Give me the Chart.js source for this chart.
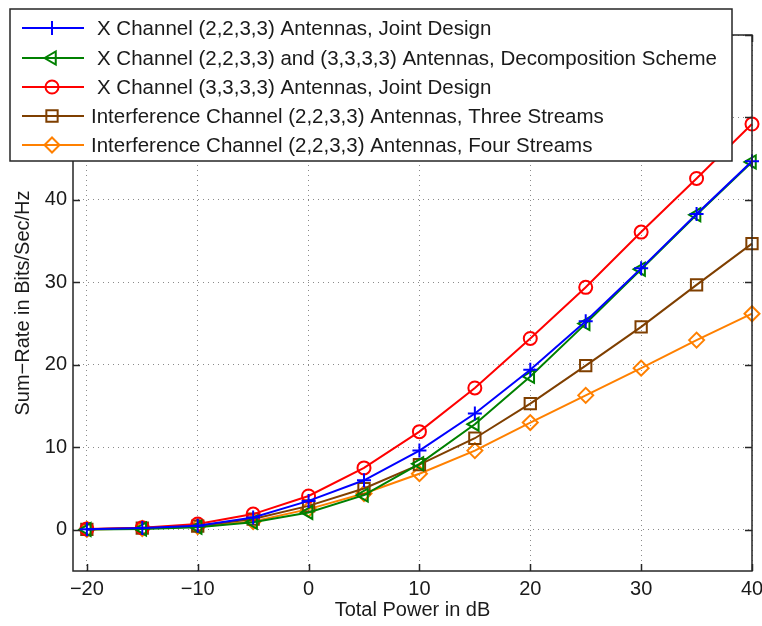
<!DOCTYPE html>
<html>
<head>
<meta charset="utf-8">
<script src="https://cdn.jsdelivr.net/npm/chart.js@4"></script>
<style>
html, body { margin: 0; padding: 0; background: #fff; }
#wrap { width: 762px; height: 626px; }
</style>
</head>
<body>
<div id="wrap"><canvas id="myChart" width="762" height="626"></canvas></div>
<script>
// data
const powerDb = [-20, -15, -10, -5, 0, 5, 10, 15, 20, 25, 30, 35, 40];
const xJoint2233 = [0.05, 0.2, 0.5, 1.5, 3.5, 6.0, 9.6, 14.1, 19.4, 25.3, 31.7, 38.3, 44.7];
const xDecomp = [0.03, 0.1, 0.3, 0.9, 2.1, 4.2, 8.0, 12.8, 18.6, 25.0, 31.6, 38.2, 44.6];
const xJoint3333 = [0.1, 0.25, 0.7, 1.9, 4.1, 7.5, 11.9, 17.2, 23.2, 29.4, 36.1, 42.6, 49.2];
const icThree = [0.05, 0.2, 0.45, 1.3, 2.9, 5.0, 7.9, 11.1, 15.3, 19.9, 24.6, 29.7, 34.7];
const icFour = [0.04, 0.15, 0.4, 1.0, 2.5, 4.4, 6.8, 9.6, 13.0, 16.3, 19.6, 23.0, 26.2];

const xTicks = [-20, -10, 0, 10, 20, 30, 40];
const yTicks = [0, 10, 20, 30, 40, 50, 60];

const labels = [
    'X Channel (2,2,3,3) Antennas, Joint Design',
    'X Channel (2,2,3,3) and (3,3,3,3) Antennas, Decomposition Scheme',
    'X Channel (3,3,3,3) Antennas, Joint Design',
    'Interference Channel (2,2,3,3) Antennas, Three Streams',
    'Interference Channel (2,2,3,3) Antennas, Four Streams'
];
const seriesValues = [xJoint2233, xDecomp, xJoint3333, icThree, icFour];
const colors = ['#0000FF', '#008000', '#FF0000', '#7F3F00', '#FF8000'];
const markers = ['cross', 'triangle', 'circle', 'rect', 'rectRot'];
const rotations = [0, -90, 0, 0, 0];
const radii = [7, 7.5, 6.5, 8, 7.5];

const fontFam = '"Liberation Sans", Arial, Helvetica, sans-serif';
const minus = v => String(v).replace('-', '\u2212');

function mkSet(i) {
    return {
        label: labels[i],
        data: powerDb.map((x, k) => ({ x: x, y: seriesValues[i][k] })),
        borderColor: colors[i],
        backgroundColor: 'rgba(0,0,0,0)',
        pointBackgroundColor: 'rgba(0,0,0,0)',
        pointBorderColor: colors[i],
        pointStyle: markers[i],
        pointRotation: rotations[i],
        pointRadius: radii[i],
        pointBorderWidth: 2,
        borderWidth: 2,
        tension: 0,
        clip: false
    };
}

// axes box, inner ticks and legend on top
const matlabLook = {
    id: 'matlabLook',
    afterDraw(chart) {
        const ctx = chart.ctx;
        const a = chart.chartArea;
        const xs = chart.scales.x, ys = chart.scales.y;
        ctx.save();
        ctx.strokeStyle = '#262626';
        ctx.lineWidth = 1.5;
        ctx.beginPath();
        xTicks.forEach(v => {
            const p = Math.round(xs.getPixelForValue(v)) + 0.5;
            ctx.moveTo(p, a.bottom); ctx.lineTo(p, a.bottom - 7);
            ctx.moveTo(p, a.top); ctx.lineTo(p, a.top + 7);
        });
        yTicks.forEach(v => {
            const p = Math.round(ys.getPixelForValue(v)) + 0.5;
            ctx.moveTo(a.left, p); ctx.lineTo(a.left + 7, p);
            ctx.moveTo(a.right, p); ctx.lineTo(a.right - 7, p);
        });
        ctx.stroke();
        ctx.strokeRect(a.left, a.top, a.right - a.left, a.bottom - a.top);

        // legend
        const L = { x: 10, y: 9, w: 722, h: 152 };
        ctx.fillStyle = '#fff';
        ctx.fillRect(L.x, L.y, L.w, L.h);
        ctx.lineWidth = 1.5;
        ctx.strokeStyle = '#262626';
        ctx.strokeRect(L.x, L.y, L.w, L.h);
        const rowY = [28, 58, 87, 116, 145];
        const textX = [97, 97, 97, 91, 91];
        ctx.font = '20.5px ' + fontFam;
        ctx.textBaseline = 'middle';
        labels.forEach((t, i) => {
            const y = rowY[i];
            ctx.strokeStyle = colors[i];
            ctx.lineWidth = 2;
            ctx.beginPath();
            ctx.moveTo(22, y); ctx.lineTo(84, y);
            ctx.stroke();
            ctx.fillStyle = 'rgba(0,0,0,0)';
            Chart.helpers.drawPoint(ctx, {
                pointStyle: markers[i], rotation: rotations[i],
                radius: radii[i], borderWidth: 2
            }, 52, y);
            ctx.fillStyle = '#1a1a1a';
            ctx.fillText(t, textX[i], y + 1);
        });
        ctx.restore();
    }
};

const config = {
    type: 'line',
    data: { datasets: [0, 1, 2, 3, 4].map(mkSet) },
    options: {
        responsive: false,
        animation: false,
        devicePixelRatio: 1,
        layout: { padding: { left: 0, top: 35, right: 10, bottom: 0 } },
        plugins: { legend: { display: false }, tooltip: { enabled: false } },
        scales: {
            x: {
                type: 'linear',
                min: -21.25,
                max: 40,
                afterBuildTicks: s => { s.ticks = xTicks.map(v => ({ value: v })); },
                afterFit: s => { s.height = 55; s.paddingLeft = 0; s.paddingRight = 0; },
                grid: { color: '#8a8a8a', drawTicks: false, lineWidth: 1 },
                border: { display: false, dash: [1, 4] },
                ticks: {
                    color: '#1a1a1a', padding: 6,
                    font: { family: fontFam, size: 20 },
                    callback: v => minus(v)
                },
                title: {
                    display: true, text: 'Total Power in dB', color: '#1a1a1a',
                    font: { family: fontFam, size: 20 },
                    padding: { top: 0, bottom: 4 }
                }
            },
            y: {
                type: 'linear',
                min: -5,
                max: 60,
                afterBuildTicks: s => { s.ticks = yTicks.map(v => ({ value: v })); },
                afterFit: s => { s.width = 73; s.paddingTop = 0; s.paddingBottom = 0; },
                grid: { color: '#8a8a8a', drawTicks: false, lineWidth: 1 },
                border: { display: false, dash: [1, 4] },
                ticks: {
                    color: '#1a1a1a', padding: 6,
                    font: { family: fontFam, size: 20 },
                    callback: v => minus(v)
                },
                title: {
                    display: true, text: 'Sum\u2212Rate in Bits/Sec/Hz', color: '#1a1a1a',
                    font: { family: fontFam, size: 20 },
                    padding: { top: 11, bottom: 0 }
                }
            }
        }
    },
    plugins: [matlabLook]
};

const myChart = new Chart(document.getElementById('myChart'), config);
</script>
</body>
</html>
